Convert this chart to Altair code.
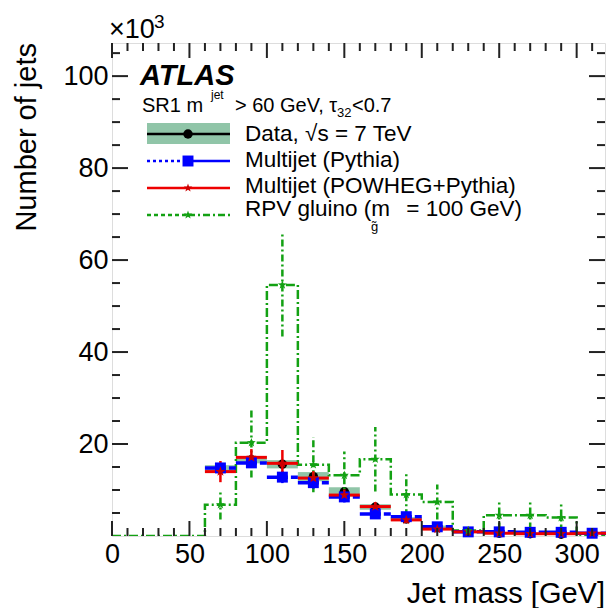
import altair as alt
import pandas as pd

# ---------------- data ----------------
bin_lo = [60, 80, 100, 120, 140, 160, 180, 200, 220, 240, 260, 280, 300]
bin_hi = [80, 100, 120, 140, 160, 180, 200, 220, 240, 260, 280, 300, 320]
centers = [70, 90, 110, 130, 150, 170, 190, 210, 230, 250, 270, 290, 310]

data_vals = [14.6, 16.6, 15.6, 12.9, 9.6, 6.3, 3.7, 2.0, 0.9, 0.6, 0.5, 0.4, 0.6]
data_err = [0.4, 0.4, 0.4, 0.4, 0.3, 0.3, 0.2, 0.2, 0.1, 0.1, 0.1, 0.1, 0.1]
band_err = [0.8, 0.8, 0.9, 1.0, 1.0, 0.6, 0.4, 0.3, 0.2, 0.1, 0.1, 0.1, 0.1]

pythia_vals = [14.8, 15.9, 12.8, 11.6, 8.5, 4.8, 4.2, 2.0, 0.9, 0.9, 0.8, 0.8, 0.6]
pythia_err = [1.0, 1.1, 1.3, 1.3, 1.2, 0.9, 0.8, 0.5, 0.4, 0.3, 0.3, 0.3, 0.3]

powheg_vals = [14.0, 17.1, 15.8, 12.6, 8.9, 6.4, 3.5, 1.5, 0.9, 0.6, 0.5, 0.5, 0.6]
powheg_err = [2.3, 1.8, 2.9, 1.5, 1.2, 1.0, 0.7, 0.5, 0.3, 0.3, 0.3, 0.3, 0.3]

gluino_vals = [6.8, 20.3, 54.6, 15.5, 13.2, 16.7, 9.0, 7.4, 1.2, 4.5, 4.5, 4.0, 0.0]
gluino_err = [3.2, 7.6, 11.2, 6.0, 5.2, 7.0, 4.7, 3.8, 0.0, 3.1, 3.1, 3.0, 0.0]

x_major = [0, 50, 100, 150, 200, 250, 300]
x_minor = [v for v in range(10, 320, 10) if v % 50 != 0]
y_major = [20, 40, 60, 80, 100]
y_minor = [v for v in range(5, 110, 5) if v % 20 != 0]

# ---------------- geometry / style ----------------
W, H = 493, 493
X_MAX, Y_MAX = 318.3, 107.2
FONT = "Liberation Sans"
GREEN = "#13a113"
BAND = "#7dbb99"

bins = pd.DataFrame({
    "lo": bin_lo, "hi": bin_hi, "c": centers,
    "data": data_vals, "data_lo": [v - e for v, e in zip(data_vals, data_err)],
    "data_hi": [v + e for v, e in zip(data_vals, data_err)],
    "band_lo": [v - e for v, e in zip(data_vals, band_err)],
    "band_hi": [v + e for v, e in zip(data_vals, band_err)],
    "py": pythia_vals, "py_lo": [v - e for v, e in zip(pythia_vals, pythia_err)],
    "py_hi": [v + e for v, e in zip(pythia_vals, pythia_err)],
    "pw": powheg_vals, "pw_lo": [v - e for v, e in zip(powheg_vals, powheg_err)],
    "pw_hi": [v + e for v, e in zip(powheg_vals, powheg_err)],
    "gl": gluino_vals, "gl_lo": [max(v - e, 0) for v, e in zip(gluino_vals, gluino_err)],
    "gl_hi": [v + e for v, e in zip(gluino_vals, gluino_err)],
})
gl_bins = bins[bins["gl"] > 0]

step_x = [0] + bin_lo + [320]
step_y = [0] + gluino_vals + [0]
step = pd.DataFrame({"x": step_x, "y": step_y})

xs = alt.Scale(domain=[0, X_MAX], nice=False, zero=False)
ys = alt.Scale(domain=[0, Y_MAX], nice=False)

STAR = ("M0,-1L0.235,-0.324L0.951,-0.309L0.38,0.124L0.588,0.809L0,0.4"
        "L-0.588,0.809L-0.38,0.124L-0.951,-0.309L-0.235,-0.324Z")

base = alt.Chart(bins)

# axes: labels only (frame and ticks drawn separately)
axis_layer = base.mark_point(opacity=0).encode(
    x=alt.X("c:Q", scale=xs, axis=alt.Axis(values=x_major, title=None, ticks=False,
                                            tickSize=0, domain=False, grid=False,
                                            labelFontSize=27, labelFont=FONT,
                                            labelColor="#000", labelPadding=5,
                                            labelFlush=False, labelOverlap=False)),
    y=alt.Y("data:Q", scale=ys, axis=alt.Axis(values=y_major, title=None, ticks=False,
                                               tickSize=0, domain=False, grid=False,
                                               labelFontSize=27, labelFont=FONT,
                                               labelColor="#000", labelPadding=4,
                                               labelFlush=False, labelOverlap=False)),
)

# data systematic band
band = base.mark_rect(color=BAND, opacity=0.85).encode(
    x=alt.X("lo:Q", scale=xs), x2="hi:Q", y=alt.Y("band_lo:Q", scale=ys), y2="band_hi:Q")

# data
data_v = base.mark_rule(color="black", strokeWidth=2.5).encode(
    x=alt.X("c:Q", scale=xs), y=alt.Y("data_lo:Q", scale=ys), y2="data_hi:Q")
data_pt = base.mark_point(shape="circle", filled=True, color="black", size=90, opacity=1).encode(
    x=alt.X("c:Q", scale=xs), y=alt.Y("data:Q", scale=ys))

# pythia
py_h = base.mark_rule(color="#0000ff", strokeWidth=3.5, strokeDash=[14, 3, 4, 3]).encode(
    x=alt.X("lo:Q", scale=xs), x2="hi:Q", y=alt.Y("py:Q", scale=ys))
py_v = base.mark_rule(color="#0000ff", strokeWidth=2.5).encode(
    x=alt.X("c:Q", scale=xs), y=alt.Y("py_lo:Q", scale=ys), y2="py_hi:Q")
py_pt = base.mark_point(shape="square", filled=True, color="#0000ff", size=120, opacity=1).encode(
    x=alt.X("c:Q", scale=xs), y=alt.Y("py:Q", scale=ys))

# powheg
pw_h = base.mark_rule(color="#ee0000", strokeWidth=3).encode(
    x=alt.X("lo:Q", scale=xs), x2="hi:Q", y=alt.Y("pw:Q", scale=ys))
pw_v = base.mark_rule(color="#ee0000", strokeWidth=2.5).encode(
    x=alt.X("c:Q", scale=xs), y=alt.Y("pw_lo:Q", scale=ys), y2="pw_hi:Q")
pw_pt = base.mark_point(shape=STAR, filled=True, color="#cc0000", size=110, opacity=1).encode(
    x=alt.X("c:Q", scale=xs), y=alt.Y("pw:Q", scale=ys))

# gluino
gl_step = alt.Chart(step).mark_line(color=GREEN, strokeWidth=2.5, interpolate="step-after",
                                    strokeDash=[9, 3, 2, 3], clip=True).encode(
    x=alt.X("x:Q", scale=xs), y=alt.Y("y:Q", scale=ys))
gl_v = alt.Chart(gl_bins).mark_rule(color=GREEN, strokeWidth=2.5, strokeDash=[7, 3, 2, 3]).encode(
    x=alt.X("c:Q", scale=xs), y=alt.Y("gl_lo:Q", scale=ys), y2="gl_hi:Q")
gl_pt = alt.Chart(gl_bins).mark_point(shape=STAR, filled=True, color=GREEN, size=90, opacity=1).encode(
    x=alt.X("c:Q", scale=xs), y=alt.Y("gl:Q", scale=ys))

# inward ticks
TK = "#222222"
xmaj = pd.DataFrame({"v": x_major})
xmin = pd.DataFrame({"v": x_minor})
ymaj = pd.DataFrame({"v": y_major})
ymin = pd.DataFrame({"v": y_minor})


def xticks(df, ln):
    b = alt.Chart(df).mark_rule(color=TK, strokeWidth=2)
    return (b.encode(x=alt.X("v:Q", scale=xs), y=alt.value(H), y2=alt.value(H - ln)) +
            b.encode(x=alt.X("v:Q", scale=xs), y=alt.value(0), y2=alt.value(ln)))


def yticks(df, ln):
    b = alt.Chart(df).mark_rule(color=TK, strokeWidth=2)
    return (b.encode(y=alt.Y("v:Q", scale=ys), x=alt.value(0), x2=alt.value(ln)) +
            b.encode(y=alt.Y("v:Q", scale=ys), x=alt.value(W), x2=alt.value(W - ln)))


ticks = xticks(xmaj, 15) + xticks(xmin, 8) + yticks(ymaj, 16) + yticks(ymin, 8)

# texts
one = pd.DataFrame({"a": [0]})
OX, OY = 112, 43  # plot origin in the page


def T(s, px, py, size=22, **kw):
    return alt.Chart(one).mark_text(
        text=s, font=FONT, fontSize=size, align=kw.pop("align", "left"),
        baseline=kw.pop("baseline", "alphabetic"), color="black", **kw
    ).encode(x=alt.value(px - OX), y=alt.value(py - OY))


LF = 22.5
texts = [
    T("×10", 109, 38, 27),
    T("3", 154, 28, 19),
    T("Number of jets", 27, 43, 29, angle=270, align="right", baseline="middle"),
    T("Jet mass [GeV]", 605, 603, 29, align="right"),
    T("ATLAS", 140, 85, 29, fontStyle="italic", fontWeight="bold"),
    T("SR1 m", 142, 112, 20),
    T("jet", 211, 99, 12),
    T("> 60 GeV, τ", 235, 112, 20),
    T("32", 337, 117, 13),
    T("<0.7", 352, 112, 20),
    T("Data, √s = 7 TeV", 245, 134, LF, baseline="middle"),
    T("Multijet (Pythia)", 245, 160, LF, baseline="middle"),
    T("Multijet (POWHEG+Pythia)", 245, 186, LF, baseline="middle"),
    T("RPV gluino (m", 245, 209, LF, baseline="middle"),
    T("g̃", 371, 227, 13, baseline="middle"),
    T("= 100 GeV)", 522, 209, LF, baseline="middle", align="right"),
]

# legend symbols
LX0, LX1, LXM = 147 - OX, 230 - OX, 188 - OX


def lrule(y, color, dash=None, width=2.5, x0=LX0, x1=LX1):
    kw = {"strokeDash": dash} if dash else {}
    return alt.Chart(one).mark_rule(color=color, strokeWidth=width, **kw).encode(
        x=alt.value(x0), x2=alt.value(x1), y=alt.value(y - OY))


def lpt(y, color, shape, size):
    return alt.Chart(one).mark_point(shape=shape, filled=True, color=color, size=size, opacity=1).encode(
        x=alt.value(LXM), y=alt.value(y - OY))


legend = [
    alt.Chart(one).mark_rect(color=BAND, opacity=0.85).encode(
        x=alt.value(LX0), x2=alt.value(LX1), y=alt.value(123 - OY), y2=alt.value(144 - OY)),
    lrule(134, "black"),
    lpt(134, "black", "circle", 90),
    lrule(161, "#0000ff", dash=[3, 3], x1=LXM),
    lrule(161, "#0000ff", x0=LXM),
    lpt(161, "#0000ff", "square", 120),
    lrule(188, "#ee0000"),
    lpt(188, "#cc0000", STAR, 80),
    lrule(215, GREEN, dash=[4, 3], x1=LXM),
    lrule(215, GREEN, dash=[7, 3, 2, 3], x0=LXM),
    lpt(215, GREEN, STAR, 80),
]

chart = alt.layer(
    axis_layer, band, data_v, data_pt, gl_step, gl_v,
    py_h, py_v, pw_h, pw_v,
    py_pt, pw_pt, gl_pt,
    ticks, *legend, *texts,
).properties(
    width=W, height=H,
    autosize=alt.AutoSizeParams(type="none"),
    padding={"left": OX, "top": OY, "right": 606 - OX - W, "bottom": 608 - OY - H},
).configure_view(
    stroke="#111111", strokeWidth=2
).configure(background="white")

chart.save("out.html", embed_options={"renderer": "svg", "actions": False})
